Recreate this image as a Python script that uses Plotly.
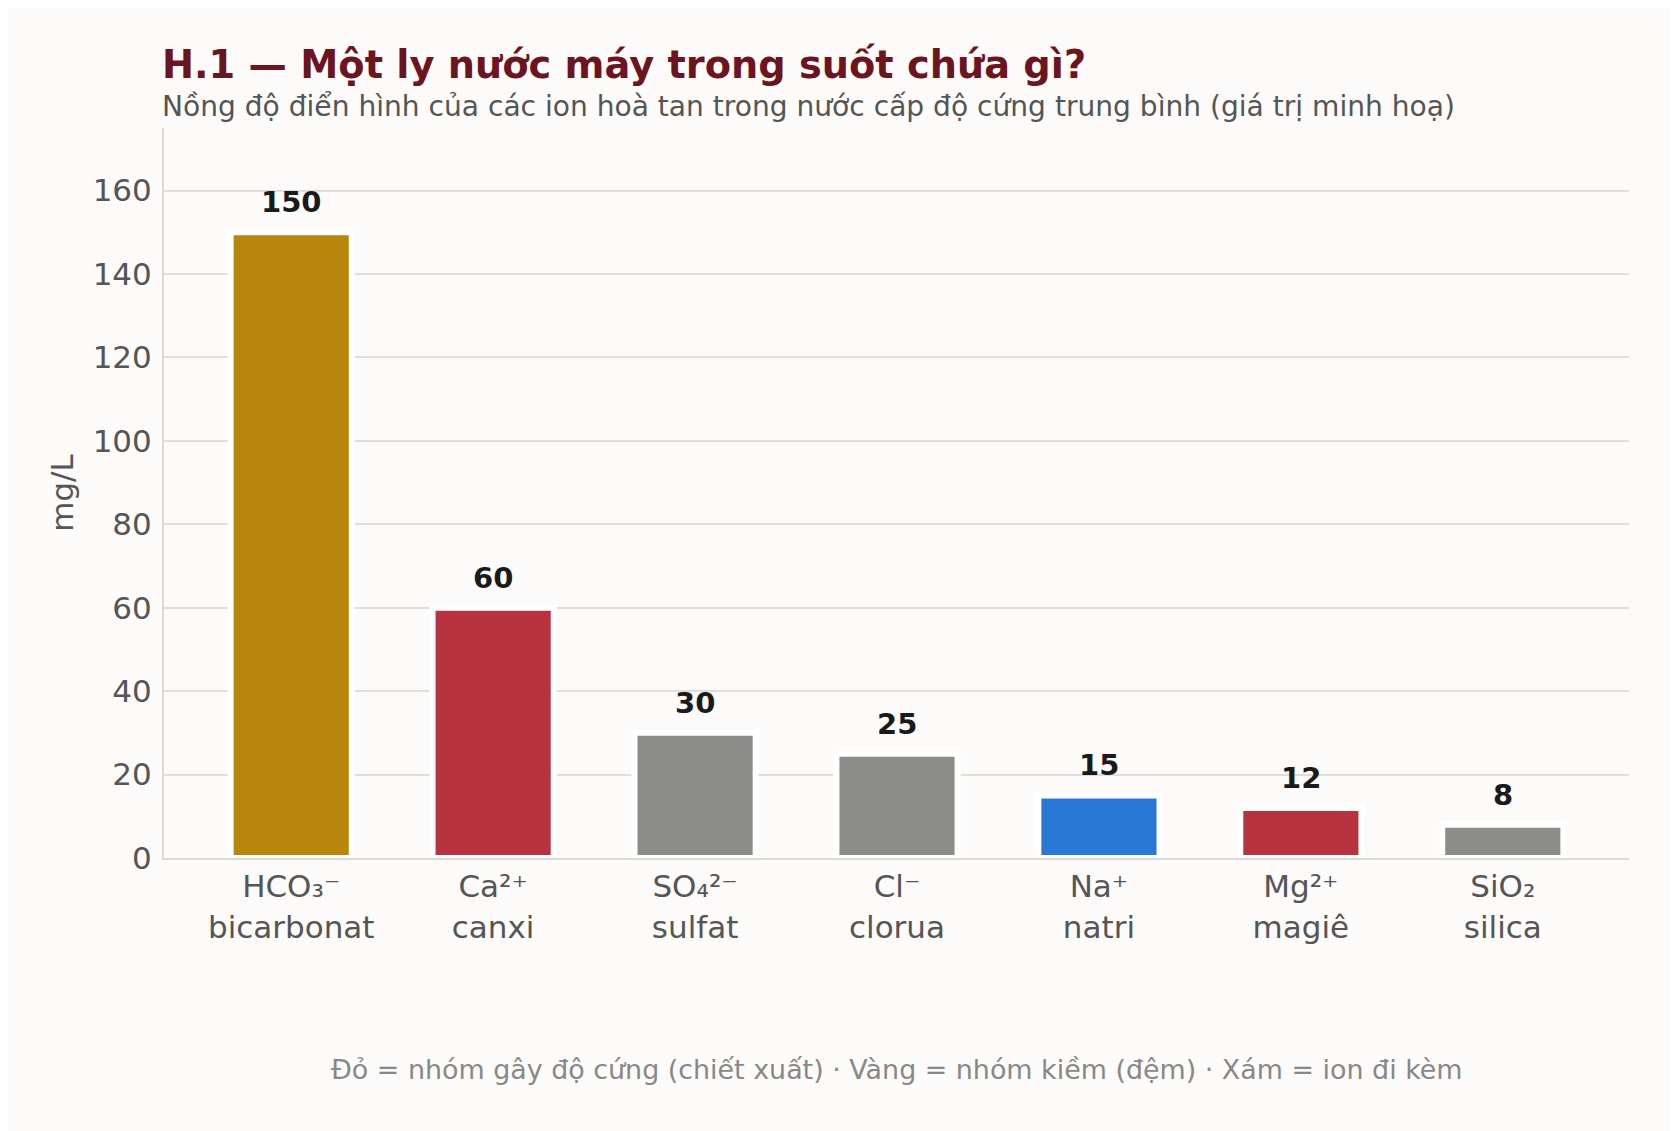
import plotly.graph_objects as go

# du lieu: nong do ion trong nuoc cap (mg/L)
ions = ["HCO₃⁻<br>bicarbonat", "Ca²⁺<br>canxi", "SO₄²⁻<br>sulfat", "Cl⁻<br>clorua",
        "Na⁺<br>natri", "Mg²⁺<br>magiê", "SiO₂<br>silica"]
values = [150, 60, 30, 25, 15, 12, 8]
colors = ["#B8860B", "#B83240", "#8C8C88", "#8C8C88", "#2A78D6", "#B83240", "#8C8C88"]

FONT = "DejaVu Sans"

fig = go.Figure()
fig.add_trace(go.Bar(
    x=ions, y=values,
    marker=dict(color=colors, line=dict(color="white", width=6)),
    width=0.6,
    hoverinfo="x+y",
))

# nhan gia tri tren dau cot
for x, v in zip(ions, values):
    fig.add_annotation(x=x, y=v, text="<b>%d</b>" % v, showarrow=False,
                       yanchor="bottom", yshift=11,
                       font=dict(family=FONT, size=29, color="#1a1a1a"))

fig.add_annotation(xref="paper", yref="paper", x=0, y=1.087, xanchor="left", yanchor="middle",
                   text="<b>H.1 — Một ly nước máy trong suốt chứa gì?</b>", showarrow=False,
                   xshift=-4, font=dict(family=FONT, size=38.3, color="#6B1520"))
fig.add_annotation(xref="paper", yref="paper", x=0, y=1.030, xanchor="left", yanchor="middle",
                   text="Nồng độ điển hình của các ion hoà tan trong nước cấp độ cứng trung bình (giá trị minh hoạ)",
                   showarrow=False, xshift=-4, font=dict(family=FONT, size=28.1, color="#555555"))
fig.add_annotation(xref="paper", yref="paper", x=0.5, y=-0.29, xanchor="center", yanchor="middle",
                   text="Đỏ = nhóm gây độ cứng (chiết xuất) · Vàng = nhóm kiềm (đệm) · Xám = ion đi kèm",
                   showarrow=False, font=dict(family=FONT, size=26.9, color="#888888"))

fig.update_layout(
    width=1678, height=1131,
    paper_bgcolor="#FCFBF9", plot_bgcolor="#FCFBF9",
    margin=dict(l=156, r=57, t=120, b=281),
    font=dict(family=FONT, size=31, color="#555555"),
    showlegend=False,
)
fig.update_xaxes(range=[-0.63, 6.625], showline=True, linecolor="#DDDAD5", linewidth=2, ticks="",
                 tickfont=dict(size=31, color="#555555"), showgrid=False)
fig.update_yaxes(range=[0, 175], dtick=20, showline=True, linecolor="#DDDAD5", linewidth=2,
                 gridcolor="#E0DEDA", gridwidth=2, zeroline=False, ticklabelstandoff=4,
                 tickfont=dict(size=31, color="#555555"),
                 title=dict(text="mg/L", font=dict(size=31, color="#555555"), standoff=10))

fig.write_html("out.html")
